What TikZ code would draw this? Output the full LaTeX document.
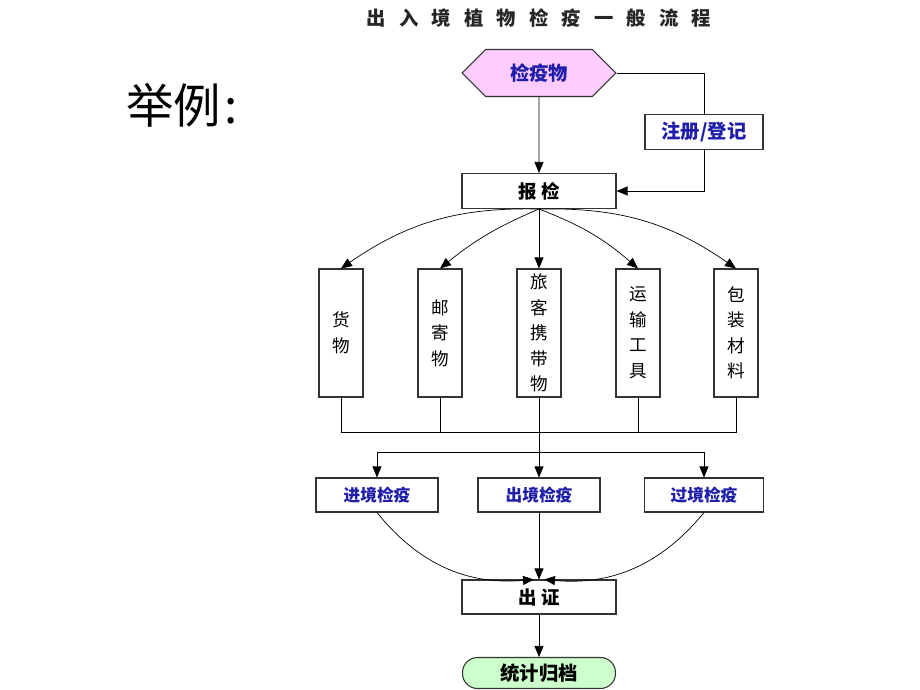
\documentclass[tikz,border=0pt]{standalone}
\usepackage{fontspec}
\newfontfamily\cjk{Noto Sans CJK SC}
\usetikzlibrary{arrows.meta,shapes.symbols}
\definecolor{labelblue}{RGB}{30,30,170}
\definecolor{hexpink}{RGB}{255,204,255}
\definecolor{endgreen}{RGB}{204,255,204}
\newcommand{\tgap}{\hspace{7.5pt}}
\tikzset{
  box/.style={draw=black!80, line width=0.6pt, fill=white, inner sep=0pt,
    font=\cjk\bfseries\fontsize{9.5}{14}\selectfont},
  hbox/.style={box, minimum width=3.08cm, minimum height=0.7cm,
    font=\cjk\bfseries\fontsize{10.5}{14}\selectfont},
  qbox/.style={box, minimum width=2.44cm, minimum height=0.68cm, text=labelblue},
  vbox/.style={box, minimum width=0.88cm, minimum height=2.56cm, align=center,
    font=\cjk\fontsize{10}{14.5}\selectfont},
  hexa/.style={box, shape=signal, signal to=west and east, signal pointer angle=90,
    minimum width=3.08cm, minimum height=0.94cm, fill=hexpink, text=labelblue,
    font=\cjk\bfseries\fontsize{11}{14}\selectfont},
  endbox/.style={box, minimum width=3.06cm, minimum height=0.62cm,
    rounded corners=0.3cm, fill=endgreen, font=\cjk\bfseries\fontsize{11}{14}\selectfont}
}
\begin{document}
\begin{tikzpicture}[x=0.02cm,y=-0.02cm,>={Triangle[length=2.2mm,width=1.8mm]}]
\useasboundingbox (0,0) rectangle (920,690);
%% titles
\node[font=\cjk\bfseries\fontsize{11}{13}\selectfont, text=black!85] (title) at (539,18)
  {出\tgap 入\tgap 境\tgap 植\tgap 物\tgap 检\tgap 疫\tgap 一\tgap 般\tgap 流\tgap 程};
\node[anchor=west, inner sep=0pt, font=\cjk\fontsize{27}{30}\selectfont] (eg) at (126,105)
  {举例\hspace{2pt}:};
%% nodes
\node[hexa] (jyw) at (539,73) {检疫物};
\node[box, minimum width=2.36cm, minimum height=0.7cm, text=labelblue,
  font=\cjk\bfseries\fontsize{11}{14}\selectfont] (zc) at (704,132) {注册/登记};
\node[hbox] (bj) at (539,191) {报\ 检};
\node[vbox] (hw) at (341,333) {货\\物};
\node[vbox] (yj) at (440,333) {邮\\寄\\物};
\node[vbox] (lk) at (539,333) {旅\\客\\携\\带\\物};
\node[vbox] (ys) at (638,333) {运\\输\\工\\具};
\node[vbox] (bz) at (736,333) {包\\装\\材\\料};
\node[qbox] (jj) at (377,495) {进境检疫};
\node[qbox] (cj) at (539,495) {出境检疫};
\node[qbox, minimum width=2.38cm] (gj) at (704,495) {过境检疫};
\node[hbox, minimum height=0.68cm] (cz) at (539,597) {出\ 证};
\node[endbox] (tj) at (539,673) {统计归档};
%% connectors
\draw[->] (jyw) -- (bj);
\draw (jyw.east) -| (zc.north);
\draw[->] (zc.south) |- (bj.east);
\draw[->] (bj.south) to[bend right=18] (hw.north);
\draw[->] (bj.south) to[bend right=8] (yj.north);
\draw[->] (bj.south) -- (lk.north);
\draw[->] (bj.south) to[bend left=10] (ys.north);
\draw[->] (bj.south) to[bend left=18] (bz.north);
\coordinate (jn) at (539,432);
\coordinate (fk) at (539,452);
\draw (hw.south) -- (hw.south |- jn) -- (bz.south |- jn) -- (bz.south);
\draw (yj.south) -- (yj.south |- jn);
\draw (ys.south) -- (ys.south |- jn);
\draw[->] (lk.south) -- (cj.north);
\draw[->] (fk) -| (jj.north);
\draw[->] (fk) -| (gj.north);
\draw[->] (jj.south) to[bend right=28] ([xshift=-1mm]cz.north);
\draw[->] (cj.south) -- (cz.north);
\draw[->] (gj.south) to[bend left=28] ([xshift=1mm]cz.north);
\draw[->] (cz) -- (tj);
\end{tikzpicture}
\end{document}
